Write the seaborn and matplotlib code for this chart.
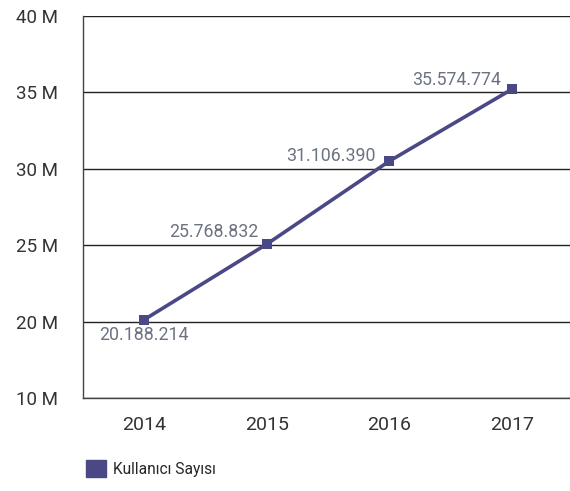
import matplotlib.pyplot as plt
import seaborn as sns
import pandas as pd
from matplotlib.patches import Patch

# === DATA ===
years = ['2014', '2015', '2016', '2017']
users = [20188214, 25768832, 31106390, 35574774]      # label values
plot_level = [20.13, 25.07, 30.5, 35.2]                # drawn heights (M)
y_ticks = [15, 20, 25, 30, 35, 40]
y_tick_labels = ['10 M', '20 M', '25 M', '30 M', '35 M', '40 M']
series_name = 'Kullanıcı Sayısı'

LINE = '#4b4886'
TXT = '#6b7380'

df = pd.DataFrame({'year': range(len(years)), 'level': plot_level})

sns.set_theme(style='white')
plt.rcParams['font.family'] = ['Roboto', 'DejaVu Sans']

fig = plt.figure(figsize=(5.70, 4.91), dpi=100)
ax = fig.add_axes([83 / 570, 1 - 398 / 491, 490 / 570, 382 / 491])

sns.lineplot(data=df, x='year', y='level', ax=ax, color=LINE, linewidth=2.6,
             marker='s', markersize=6.5, markeredgewidth=0, zorder=3)

ax.set_xlim(-0.5, 3.5)
ax.set_ylim(15, 40)
ax.set_yticks(y_ticks)
ax.set_yticklabels(y_tick_labels, fontsize=13.5, color='#333333')
ax.set_xticks(range(len(years)))
ax.set_xticklabels(years, fontsize=14, color='#333333')
ax.set_xticks([0.5, 1.5, 2.5], minor=True)
ax.tick_params(axis='y', length=0, pad=18)
ax.tick_params(axis='x', which='major', length=0, pad=13)
ax.tick_params(axis='x', which='minor', direction='in', length=6, width=1, color='#444444')
ax.set_xlabel('')
ax.set_ylabel('')

ax.grid(axis='y', color='#222222', linewidth=1)
ax.set_axisbelow(True)
for s in ['top', 'right']:
    ax.spines[s].set_visible(False)
for s in ['left', 'bottom']:
    ax.spines[s].set_color('#444444')
    ax.spines[s].set_linewidth(1)

def fmt(v):
    return f'{v:,}'.replace(',', '.')

offsets = [(0, -11, 'center'), (-6, 9, 'right'), (-10, 3.5, 'right'), (-8, 7, 'right')]
for i, (v, lv) in enumerate(zip(users, plot_level)):
    dx, dy, ha = offsets[i]
    ax.annotate(fmt(v), (i, lv), xytext=(dx, dy), textcoords='offset points',
                ha=ha, va='center', fontsize=12.8, color=TXT)

fig.legend(handles=[Patch(color=LINE, label=series_name)], loc='lower left',
           bbox_to_anchor=(72 / 570, 0.0), frameon=False, fontsize=11.2,
           handlelength=1.3, handleheight=1.3, handletextpad=0.45)

plt.savefig('out.png', dpi=100)
plt.close()
